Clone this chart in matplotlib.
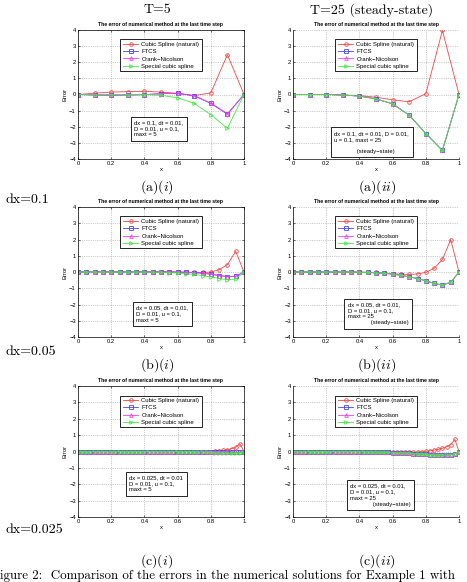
import numpy as np
import matplotlib
matplotlib.use("Agg")
import matplotlib.pyplot as plt

plt.rcParams['mathtext.fontset'] = 'cm'
plt.rcParams['font.family'] = ['Liberation Sans', 'DejaVu Sans']

legend_labels = ['Cubic Spline (natural)', 'FTCS', 'Crank\u2212Nicolson', 'Special cubic spline']

# ---- dx = 0.1 ----
x_a = [0.0, 0.1, 0.2, 0.3, 0.4, 0.5, 0.6, 0.7, 0.8, 0.9, 1.0]
a1_red = [0, 0.08, 0.15, 0.18, 0.2, 0.15, 0.07, -0.07, 0.1, 2.47, 0]
a1_blue = [0, -0.03, -0.04, -0.03, -0.01, 0.05, 0.07, -0.08, -0.55, -1.22, 0]
a1_mag = [0, -0.03, -0.04, -0.03, -0.01, 0.05, 0.08, -0.07, -0.53, -1.2, 0]
a1_green = [0, -0.01, 0.0, 0.0, 0.0, -0.05, -0.2, -0.55, -1.25, -2.1, 0]

a2_red = [0, 0, 0, -0.03, -0.07, -0.17, -0.33, -0.45, 0.05, 3.97, 0]
a2_blue = [0, 0, 0, -0.03, -0.1, -0.27, -0.58, -1.28, -2.42, -3.47, 0]
a2_mag = [0, 0, 0, -0.03, -0.1, -0.27, -0.58, -1.28, -2.42, -3.47, 0]
a2_green = [0, 0, 0, -0.03, -0.1, -0.27, -0.58, -1.28, -2.42, -3.47, 0]

# ---- dx = 0.05 ----
x_b = [0.0, 0.05, 0.1, 0.15, 0.2, 0.25, 0.3, 0.35, 0.4, 0.45, 0.5,
       0.55, 0.6, 0.65, 0.7, 0.75, 0.8, 0.85, 0.9, 0.95, 1.0]
b1_red = [0, 0.01, 0.02, 0.02, 0.02, 0.02, 0.02, 0.02, 0.02, 0.01, 0.01,
          0.01, 0.0, -0.01, -0.02, -0.03, 0.0, 0.14, 0.45, 1.27, 0]
b1_blue = [0, 0, 0, 0, 0, 0, 0, 0, 0, 0, 0,
           0, -0.01, -0.02, -0.04, -0.07, -0.13, -0.22, -0.28, -0.26, 0]
b1_mag = [0, 0, 0, 0, 0, 0, 0, 0, 0, 0, 0,
          0, -0.01, -0.02, -0.04, -0.07, -0.13, -0.22, -0.28, -0.26, 0]
b1_green = [0, 0, 0, 0, 0, 0, 0, 0, 0, -0.01, -0.02,
            -0.04, -0.06, -0.1, -0.15, -0.22, -0.3, -0.4, -0.48, -0.43, 0]

b2_red = [0, 0, 0, 0, 0, 0, 0, 0, 0, -0.01, -0.03,
          -0.06, -0.1, -0.14, -0.15, -0.12, -0.02, 0.22, 0.77, 1.99, 0]
b2_blue = [0, 0, 0, 0, 0, 0, 0, 0, -0.02, -0.03, -0.05,
           -0.08, -0.13, -0.2, -0.3, -0.4, -0.54, -0.7, -0.8, -0.64, 0]
b2_mag = [0, 0, 0, 0, 0, 0, 0, 0, -0.02, -0.03, -0.05,
          -0.08, -0.13, -0.2, -0.3, -0.4, -0.54, -0.7, -0.8, -0.64, 0]
b2_green = [0, 0, 0, 0, 0, 0, 0, 0, -0.02, -0.03, -0.05,
            -0.08, -0.13, -0.2, -0.3, -0.4, -0.54, -0.7, -0.8, -0.64, 0]

# ---- dx = 0.025 ----
x_c = [0.0, 0.025, 0.05, 0.075, 0.1, 0.125, 0.15, 0.175, 0.2, 0.225,
       0.25, 0.275, 0.3, 0.325, 0.35, 0.375, 0.4, 0.425, 0.45, 0.475,
       0.5, 0.525, 0.55, 0.575, 0.6, 0.625, 0.65, 0.675, 0.7, 0.725,
       0.75, 0.775, 0.8, 0.825, 0.85, 0.875, 0.9, 0.925, 0.95, 0.975, 1.0]
c1_red = [0, 0, 0, 0, 0, 0, 0, 0, 0, 0,
          0, 0, 0, 0, 0, 0, 0, 0, 0, 0,
          0, 0, 0, 0, 0, 0, 0, 0, 0, 0,
          0, 0, 0.0, 0.02, 0.04, 0.07, 0.11, 0.17, 0.26, 0.47, 0]
c1_blue = [0, 0, 0, 0, 0, 0, 0, 0, 0, 0,
           0, 0, 0, 0, 0, 0, 0, 0, 0, 0,
           0, 0, 0, 0, 0, 0, 0, 0, 0, 0,
           0, 0, 0, -0.01, -0.02, -0.03, -0.04, -0.05, -0.06, -0.05, 0]
c1_mag = [0, 0, 0, 0, 0, 0, 0, 0, 0, 0,
          0, 0, 0, 0, 0, 0, 0, 0, 0, 0,
          0, 0, 0, 0, 0, 0, 0, 0, 0, 0,
          0, 0, 0, -0.01, -0.02, -0.03, -0.04, -0.05, -0.06, -0.05, 0]
c1_green = [0, 0, 0, 0, 0, 0, 0, 0, 0, 0,
            0, 0, 0, 0, 0, 0, 0, 0, 0, 0,
            0, 0, 0, 0, 0, 0, 0, 0, -0.01, -0.02,
            -0.03, -0.04, -0.05, -0.07, -0.08, -0.1, -0.11, -0.12, -0.12, -0.1, 0]

c2_red = [0, 0, 0, 0, 0, 0, 0, 0, 0, 0,
          0, 0, 0, 0, 0, 0, 0, 0, 0, 0,
          -0.01, -0.01, -0.02, -0.02, -0.03, -0.03, -0.04, -0.04, -0.04, -0.04,
          -0.03, -0.01, 0.01, 0.04, 0.08, 0.13, 0.2, 0.29, 0.42, 0.74, 0]
c2_blue = [0, 0, 0, 0, 0, 0, 0, 0, 0, 0,
           0, 0, 0, 0, 0, 0, -0.01, -0.01, -0.02, -0.02,
           -0.03, -0.04, -0.05, -0.06, -0.07, -0.08, -0.09, -0.1, -0.11, -0.13,
           -0.14, -0.16, -0.17, -0.19, -0.2, -0.21, -0.22, -0.21, -0.19, -0.13, 0]
c2_mag = list(c2_blue)
c2_green = list(c2_blue)

panels = [
    (x_a, [a1_red, a1_blue, a1_mag, a1_green], "dx = 0.1, dt = 0.01,\nD = 0.01, u = 0.1,\nmaxt = 5"),
    (x_a, [a2_red, a2_blue, a2_mag, a2_green], "dx = 0.1, dt = 0.01, D = 0.01,\nu = 0.1, maxt = 25\n\n              (steady\u2212state)"),
    (x_b, [b1_red, b1_blue, b1_mag, b1_green], "dx = 0.05, dt = 0.01,\nD = 0.01, u = 0.1,\nmaxt = 5"),
    (x_b, [b2_red, b2_blue, b2_mag, b2_green], "dx = 0.05, dt = 0.01,\nD = 0.01, u = 0.1,\nmaxt = 25\n              (steady\u2212state)"),
    (x_c, [c1_red, c1_blue, c1_mag, c1_green], "dx = 0.025, dt = 0.01\nD = 0.01, u = 0.1,\nmaxt = 5"),
    (x_c, [c2_red, c2_blue, c2_mag, c2_green], "dx = 0.025, dt = 0.01,\nD = 0.01, u = 0.1,\nmaxt = 25\n              (steady\u2212state)"),
]

colors = ['#f04848', '#4646e6', '#f040f0', '#46e646']
markers = ['o', 's', '^', '>']

W, H = 467, 582
fig = plt.figure(figsize=(W / 100, H / 100), dpi=100)

def rect(l, t, r, b):
    return [l / W, 1 - b / H, (r - l) / W, (b - t) / H]

rects = [rect(78, 30, 244, 159), rect(293, 30, 459, 159),
         rect(78, 207, 244, 337), rect(293, 207, 459, 337),
         rect(78, 386, 244, 517), rect(293, 386, 459, 517)]
# text box positions (axes fraction, left/bottom)
tpos = [(0.34, 0.17), (0.25, 0.04), (0.35, 0.11), (0.33, 0.09), (0.31, 0.19), (0.345, 0.08)]
fs = 4.2

for i, (r, (xv, series, info)) in enumerate(zip(rects, panels)):
    ax = fig.add_axes(r)
    for s, c, m, lab in zip(series, colors, markers, legend_labels):
        ax.plot(xv, s, color=c, marker=m, markersize=2.6, markerfacecolor='none',
                markeredgewidth=0.6, linewidth=0.6, label=lab)
    ax.set_xlim(0, 1)
    ax.set_ylim(-4, 4)
    ax.set_xticks([0, 0.2, 0.4, 0.6, 0.8, 1])
    ax.set_xticklabels(['0', '0.2', '0.4', '0.6', '0.8', '1'])
    ax.set_yticks([-4, -3, -2, -1, 0, 1, 2, 3, 4])
    ax.set_yticklabels(['\u22124', '\u22123', '\u22122', '\u22121', '0', '1', '2', '3', '4'])
    ax.grid(True, linestyle=':', color='#999999', linewidth=0.5)
    right_col = (i % 2 == 1)
    if right_col:
        ax.spines['top'].set_visible(False)
        ax.spines['right'].set_visible(False)
        ax.tick_params(direction='in', length=1.5, width=0.4, labelsize=fs, pad=1.5)
    else:
        ax.tick_params(direction='in', length=1.5, width=0.4, labelsize=fs, pad=1.5,
                       top=True, right=True)
    for sp in ax.spines.values():
        sp.set_linewidth(0.5)
    ax.set_xlabel('x', fontsize=fs, labelpad=1)
    ax.set_ylabel('Error', fontsize=fs, labelpad=1)
    ax.set_title('The error of numerical method at the last time step', fontsize=3.7,
                 fontweight='bold', pad=3)
    leg = ax.legend(loc='upper center', bbox_to_anchor=(0.5, 0.95), fontsize=4.3,
                    fancybox=False, edgecolor='black', framealpha=1,
                    handlelength=2.6, borderpad=0.4, labelspacing=0.35, handletextpad=0.5)
    leg.get_frame().set_linewidth(0.6)
    ax.text(tpos[i][0], tpos[i][1], info, transform=ax.transAxes, fontsize=4.2,
            ha='left', va='bottom', linespacing=1.25,
            bbox=dict(boxstyle='square,pad=0.6', facecolor='white', edgecolor='black', linewidth=0.6))

# page text
def ftext(x, y, s, **kw):
    fig.text(x / W, 1 - y / H, s, **kw)

cm = dict(family='cmr10')
ftext(157, 10, 'T=5', ha='center', va='center', fontsize=10, **cm)
ftext(372, 10, 'T=25 (steady-state)', ha='center', va='center', fontsize=10, **cm)
ftext(157, 187, r'$\mathrm{(a)}(i)$', ha='center', va='center', fontsize=10)
ftext(377, 187, r'$\mathrm{(a)}(ii)$', ha='center', va='center', fontsize=10)
ftext(157, 365, r'$\mathrm{(b)}(i)$', ha='center', va='center', fontsize=10)
ftext(377, 365, r'$\mathrm{(b)}(ii)$', ha='center', va='center', fontsize=10)
ftext(157, 561, r'$\mathrm{(c)}(i)$', ha='center', va='center', fontsize=10)
ftext(377, 561, r'$\mathrm{(c)}(ii)$', ha='center', va='center', fontsize=10)
ftext(5, 200, 'dx=0.1', ha='left', va='center', fontsize=10, **cm)
ftext(5, 352, 'dx=0.05', ha='left', va='center', fontsize=10, **cm)
ftext(5, 530, 'dx=0.025', ha='left', va='center', fontsize=10, **cm)
ftext(0, 576, 'igure 2:  Comparison of the errors in the numerical solutions for Example 1 with',
      ha='left', va='center', fontsize=9.3, **cm)

fig.savefig('out.png', dpi=100)
